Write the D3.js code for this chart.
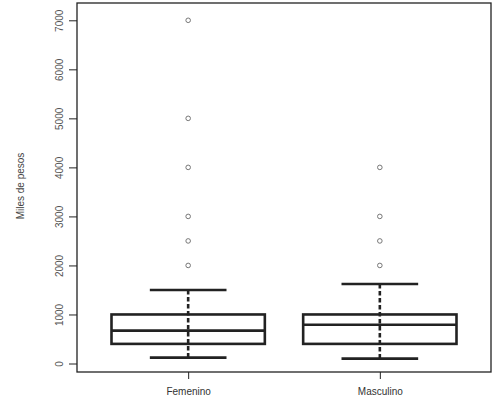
<!DOCTYPE html>
<html lang="es">
<head>
  <meta charset="utf-8">
  <title>Boxplot</title>
  <style>
    body { margin: 0; background: #fff; }
    text { font-family: "Liberation Sans", Arial, sans-serif; }
  </style>
</head>
<body>
  <svg width="504" height="399"></svg>
  <script src="https://d3js.org/d3.v7.min.js"></script>
  <script>
    // data (miles de pesos)
    var categories = ["Femenino", "Masculino"];
    var whiskerLow = [120, 100];
    var q1 = [400, 400];
    var median = [670, 790];
    var q3 = [1000, 1000];
    var whiskerHigh = [1500, 1620];
    var outliers = [
      [2000, 2500, 3000, 4000, 5000, 7000],
      [2000, 2500, 3000, 4000]
    ];
    var yTicks = [0, 1000, 2000, 3000, 4000, 5000, 6000, 7000];

    var svg = d3.select("svg");
    var plot = { left: 77, right: 491, top: 3, bottom: 372 };

    // R style x positions 1..n, with 4% extension
    var x = d3.scaleLinear()
      .domain([0.42, categories.length + 0.58])
      .range([plot.left, plot.right]);

    var y = d3.scaleLinear()
      .domain([0, 7000])
      .range([363.5, 20.3]);

    var boxW = x(1.4) - x(1);
    var capW = x(1.2) - x(1);

    // title, mostly cut off at the top edge like in the original
    svg.append("text")
      .attr("x", 345)
      .attr("y", -2)
      .attr("text-anchor", "middle")
      .attr("font-size", 11)
      .attr("fill", "#333")
      .text("(miles de pesos)");

    // y axis
    var yAxis = d3.axisLeft(y)
      .tickValues(yTicks)
      .tickSize(8)
      .tickPadding(0)
      .tickFormat(d3.format("d"));

    var gy = svg.append("g")
      .attr("transform", "translate(" + plot.left + ",0)")
      .call(yAxis);
    gy.select(".domain").remove();
    gy.selectAll(".tick line").attr("stroke", "#222").attr("stroke-width", 1);
    gy.selectAll(".tick text")
      .attr("transform", "rotate(-90)")
      .attr("x", 0)
      .attr("y", -14)
      .attr("dy", 0)
      .attr("text-anchor", "middle")
      .attr("font-size", 10)
      .attr("fill", "#555");

    // x axis
    var xAxis = d3.axisBottom(x)
      .tickValues(d3.range(1, categories.length + 1))
      .tickSize(7)
      .tickPadding(9)
      .tickFormat(function (d) { return categories[d - 1]; });

    var gx = svg.append("g")
      .attr("transform", "translate(0," + plot.bottom + ")")
      .call(xAxis);
    gx.select(".domain").remove();
    gx.selectAll(".tick line").attr("stroke", "#222");
    gx.selectAll(".tick text")
      .attr("font-size", 10)
      .attr("fill", "#333");

    // axis title
    svg.append("text")
      .attr("transform", "translate(24,186) rotate(-90)")
      .attr("text-anchor", "middle")
      .attr("font-size", 10)
      .attr("fill", "#444")
      .text("Miles de pesos");

    // frame
    svg.append("rect")
      .attr("x", plot.left)
      .attr("y", plot.top)
      .attr("width", plot.right - plot.left)
      .attr("height", plot.bottom - plot.top)
      .attr("fill", "none")
      .attr("stroke", "#222")
      .attr("stroke-width", 1.3);

    // boxes
    categories.forEach(function (c, i) {
      var cx = x(i + 1);
      var g = svg.append("g").attr("stroke", "#222").attr("stroke-width", 2.6).attr("fill", "none");

      // box
      g.append("rect")
        .attr("x", cx - boxW)
        .attr("y", y(q3[i]))
        .attr("width", 2 * boxW)
        .attr("height", y(q1[i]) - y(q3[i]));

      // median
      g.append("line")
        .attr("x1", cx - boxW).attr("x2", cx + boxW)
        .attr("y1", y(median[i])).attr("y2", y(median[i]));

      // whisker (dashed, runs through the box)
      g.append("line")
        .attr("x1", cx).attr("x2", cx)
        .attr("y1", y(whiskerLow[i])).attr("y2", y(whiskerHigh[i]))
        .attr("stroke-dasharray", "4.5,2.5");

      // caps
      g.append("line")
        .attr("x1", cx - capW).attr("x2", cx + capW)
        .attr("y1", y(whiskerHigh[i])).attr("y2", y(whiskerHigh[i]));
      g.append("line")
        .attr("x1", cx - capW).attr("x2", cx + capW)
        .attr("y1", y(whiskerLow[i])).attr("y2", y(whiskerLow[i]));

      // outliers
      svg.selectAll(".out-" + i)
        .data(outliers[i])
        .enter().append("circle")
        .attr("class", "out-" + i)
        .attr("cx", cx)
        .attr("cy", function (d) { return y(d); })
        .attr("r", 2.3)
        .attr("fill", "none")
        .attr("stroke", "#777")
        .attr("stroke-width", 1);
    });
  </script>
</body>
</html>
